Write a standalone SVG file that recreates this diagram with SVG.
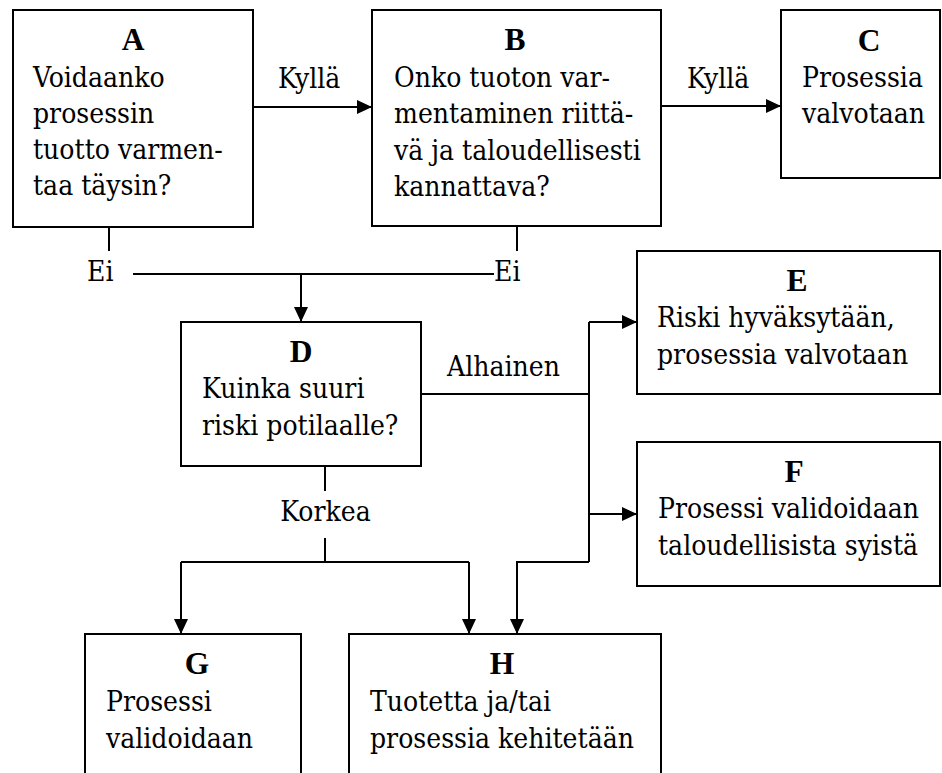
<svg xmlns="http://www.w3.org/2000/svg" width="942" height="773" viewBox="0 0 942 773">
  <style>
    .box { fill: #fff; stroke: #000; stroke-width: 2; }
    .t { font-family: "DejaVu Serif Condensed", "DejaVu Serif", serif; font-stretch: condensed; font-size: 28px; fill: #000; }
    .h { font-family: "Liberation Serif", "Times New Roman", serif; font-stretch: normal; font-size: 31.5px; font-weight: bold; text-anchor: middle; }
    .c { fill: none; stroke: #000; stroke-width: 2; }
  </style>
  <defs>
    <marker id="arrow" markerUnits="userSpaceOnUse" markerWidth="15" markerHeight="14" refX="15" refY="7" orient="auto">
      <path d="M0,0 L15,7 L0,14 z" fill="#000"/>
    </marker>
  </defs>
  <rect width="942" height="773" fill="#fff"/>

  <g id="connectors">
    <line class="c" x1="253" y1="107" x2="372" y2="107" marker-end="url(#arrow)"/>
    <line class="c" x1="661" y1="106" x2="781" y2="106" marker-end="url(#arrow)"/>
    <line class="c" x1="109" y1="227" x2="109" y2="251"/>
    <line class="c" x1="517" y1="226" x2="517" y2="251"/>
    <line class="c" x1="133" y1="274" x2="494" y2="274"/>
    <line class="c" x1="301" y1="274" x2="301" y2="322" marker-end="url(#arrow)"/>
    <line class="c" x1="421" y1="394" x2="589" y2="394"/>
    <line class="c" x1="589" y1="322" x2="589" y2="562"/>
    <line class="c" x1="589" y1="322" x2="637" y2="322" marker-end="url(#arrow)"/>
    <line class="c" x1="589" y1="514" x2="637" y2="514" marker-end="url(#arrow)"/>
    <polyline class="c" points="589,562 517,562 517,634" marker-end="url(#arrow)"/>
    <line class="c" x1="325" y1="466" x2="325" y2="491"/>
    <line class="c" x1="325" y1="538" x2="325" y2="562"/>
    <line class="c" x1="181" y1="562" x2="469" y2="562"/>
    <line class="c" x1="181" y1="562" x2="181" y2="634" marker-end="url(#arrow)"/>
    <line class="c" x1="469" y1="562" x2="469" y2="634" marker-end="url(#arrow)"/>
    <text class="t" x="278" y="88">Kyllä</text>
    <text class="t" x="687" y="88">Kyllä</text>
    <text class="t" x="87" y="281">Ei</text>
    <text class="t" x="494" y="281">Ei</text>
    <text class="t" x="447" y="376">Alhainen</text>
    <text class="t" x="325.5" y="521" text-anchor="middle">Korkea</text>
  </g>

  <g id="A">
    <rect class="box" x="13" y="10" width="240" height="217"/>
    <text class="t h" x="133" y="50">A</text>
    <text class="t" x="33" y="87">Voidaanko</text>
    <text class="t" x="33" y="123">prosessin</text>
    <text class="t" x="33" y="159">tuotto varmen-</text>
    <text class="t" x="33" y="195">taa täysin?</text>
  </g>

  <g id="B">
    <rect class="box" x="372" y="10" width="289" height="216"/>
    <text class="t h" x="515" y="50">B</text>
    <text class="t" x="394" y="87">Onko tuoton var-</text>
    <text class="t" x="394" y="123">mentaminen riittä-</text>
    <text class="t" x="394" y="160">vä ja taloudellisesti</text>
    <text class="t" x="394" y="196">kannattava?</text>
  </g>

  <g id="C">
    <rect class="box" x="781" y="10" width="159" height="168"/>
    <text class="t h" x="869" y="51">C</text>
    <text class="t" x="802" y="87">Prosessia</text>
    <text class="t" x="802" y="123">valvotaan</text>
  </g>

  <g id="D">
    <rect class="box" x="181" y="322" width="240" height="144"/>
    <text class="t h" x="301" y="362">D</text>
    <text class="t" x="202" y="398">Kuinka suuri</text>
    <text class="t" x="202" y="435">riski potilaalle?</text>
  </g>

  <g id="E">
    <rect class="box" x="637" y="251" width="303" height="143"/>
    <text class="t h" x="797" y="291">E</text>
    <text class="t" x="657" y="327">Riski hyväksytään,</text>
    <text class="t" x="657" y="364">prosessia valvotaan</text>
  </g>

  <g id="F">
    <rect class="box" x="637" y="442" width="303" height="144"/>
    <text class="t h" x="794" y="482">F</text>
    <text class="t" x="658" y="518">Prosessi validoidaan</text>
    <text class="t" x="658" y="555">taloudellisista syistä</text>
  </g>

  <g id="G">
    <rect class="box" x="85" y="634" width="216" height="160"/>
    <text class="t h" x="197" y="674">G</text>
    <text class="t" x="106" y="711">Prosessi</text>
    <text class="t" x="106" y="748">validoidaan</text>
  </g>

  <g id="H">
    <rect class="box" x="349" y="634" width="312" height="160"/>
    <text class="t h" x="502" y="674">H</text>
    <text class="t" x="370" y="711">Tuotetta ja/tai</text>
    <text class="t" x="370" y="748">prosessia kehitetään</text>
  </g>
</svg>
